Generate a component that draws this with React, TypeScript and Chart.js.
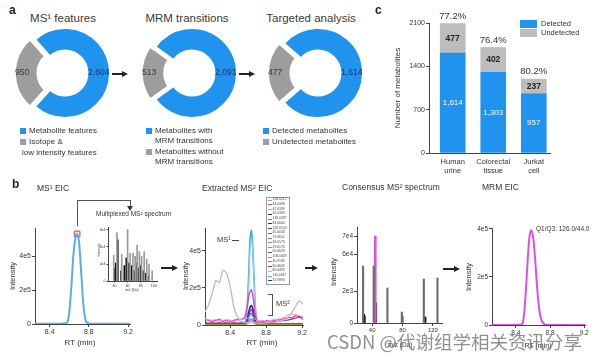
import React, { useEffect, useRef } from "react";
import { Chart, registerables } from "chart.js";

Chart.register(...registerables);

const FONT = "'Liberation Sans', Arial, Helvetica, sans-serif";
const CJK = "'Noto Sans CJK SC', 'Noto Sans', sans-serif";
const INK = "#333333";
const BLUE = "#1f93ee";
const DONUT_GRAY = "#9d9d9d";
const BAR_GRAY = "#bdbdbd";
const MAGENTA = "#e04fe3";

// ---------------- Panel a ----------------
const donutTitles = ["MS\u00b9 features", "MRM transitions", "Targeted analysis"];
const donutKept = [2604, 2091, 1614];
const donutDropped = [950, 513, 477];

// ---------------- Panel c ----------------
const sampleNames = [["Human", "urine"], ["Colorectal", "tissue"], ["Jurkat", "cell"]];
const samplePos = [0, 1, 2];
const detectedCounts = [1614, 1303, 957];
const undetectedCounts = [477, 402, 237];
const detectedPercent = ["77.2%", "76.4%", "80.2%"];
const countTicks = [0, 700, 1400, 2100];

// ---------------- Panel b : MS1 EIC ----------------
const rtTicks = [8.4, 8.8, 9.2];
const intTicks = [0, 2, 4]; // x1e5
const ms1Rt = [8.25, 8.3, 8.35, 8.4, 8.45, 8.5, 8.55, 8.58, 8.6, 8.62, 8.64, 8.66, 8.68, 8.7, 8.72, 8.74, 8.76, 8.78, 8.82, 8.88, 8.95, 9.05, 9.15, 9.22];
const ms1Int = [0.02, 0.01, 0.02, 0.01, 0.02, 0.01, 0.03, 0.1, 0.7, 2.1, 3.9, 5.0, 5.3, 4.8, 3.2, 1.4, 0.4, 0.08, 0.02, 0.01, 0.02, 0.01, 0.02, 0.01];
const ms1Apex = [8.68, 5.3];

// inset multiplexed MS2 spectrum
const insetGrayMz = [38.8, 43.7, 51, 60, 63.8, 68.2, 71.6, 74.6, 78, 81.4, 85.4, 89.3, 92.8, 97.6];
const insetGrayInt = [0.5, 0.94, 0.52, 1.0, 0.54, 0.54, 0.48, 0.7, 0.57, 0.48, 0.57, 0.42, 0.33, 0.2];
const insetBlackMz = [40, 42, 45, 50, 55, 58, 62, 66, 70, 73, 77, 80, 84, 88, 92];
const insetBlackInt = [0.25, 0.35, 0.8, 0.2, 0.3, 0.45, 0.35, 0.3, 0.2, 0.35, 0.25, 0.3, 0.2, 0.15, 0.1];
const insetMzTicks = [40, 60, 80, 100];
const insetIntTicks = [0, 0.33, 0.67, 1.0];
const insetIntLabels = ["0", "2e4", "4e4", "6e4"];

// ---------------- Panel b : extracted MS2 EIC ----------------
const ms2Rt = [8.12, 8.16, 8.2, 8.24, 8.28, 8.32, 8.36, 8.4, 8.44, 8.48, 8.52, 8.56, 8.585, 8.605, 8.62, 8.635, 8.65, 8.665, 8.68, 8.7, 8.73, 8.77, 8.81, 8.85, 8.89, 8.93, 8.97, 9.01, 9.05, 9.09, 9.13, 9.17, 9.21];
const ms2Lavender = [0.7, 1.1, 1.7, 2.4, 2.3, 2.95, 2.8, 2.1, 1.0, 0.45, 0.2, 0.15, 0.12, 0.15, 0.2, 0.25, 0.2, 0.15, 0.12, 0.1, 0.1, 0.1, 0.12, 0.15, 0.15, 0.2, 0.25, 0.3, 0.45, 0.7, 1.05, 1.3, 1.15];
const ms2Pink = [0.35, 0.3, 0.25, 0.3, 0.2, 0.25, 0.3, 0.25, 0.2, 0.25, 0.3, 0.3, 0.35, 0.4, 0.45, 0.5, 0.45, 0.4, 0.3, 0.25, 0.2, 0.25, 0.2, 0.25, 0.3, 0.3, 0.35, 0.45, 0.55, 0.6, 0.55, 0.5, 0.45];
const ms2Maroon = [0.15, 0.1, 0.12, 0.1, 0.12, 0.1, 0.12, 0.1, 0.12, 0.1, 0.12, 0.12, 0.15, 0.2, 0.25, 0.28, 0.25, 0.2, 0.15, 0.12, 0.12, 0.12, 0.15, 0.15, 0.18, 0.2, 0.22, 0.25, 0.28, 0.32, 0.38, 0.42, 0.45];
const ms2Magenta = [0.3, 0.25, 0.2, 0.25, 0.3, 0.2, 0.25, 0.2, 0.25, 0.3, 0.3, 0.4, 0.9, 1.5, 1.8, 1.9, 1.65, 1.1, 0.5, 0.25, 0.2, 0.2, 0.25, 0.2, 0.25, 0.3, 0.3, 0.35, 0.4, 0.4, 0.5, 0.45, 0.3];
const ms2Green = [0.02, 0.03, 0.02, 0.03, 0.02, 0.03, 0.02, 0.03, 0.02, 0.03, 0.02, 0.03, 0.05, 0.12, 0.2, 0.25, 0.2, 0.12, 0.05, 0.02, 0.03, 0.02, 0.03, 0.02, 0.03, 0.02, 0.03, 0.02, 0.03, 0.02, 0.03, 0.02, 0.03];
const ms2Orange = [0.04, 0.05, 0.04, 0.05, 0.04, 0.05, 0.04, 0.05, 0.04, 0.05, 0.04, 0.05, 0.06, 0.1, 0.14, 0.16, 0.13, 0.09, 0.06, 0.05, 0.04, 0.05, 0.04, 0.05, 0.04, 0.05, 0.04, 0.05, 0.04, 0.05, 0.04, 0.05, 0.04];
const ms2Teal = [0.03, 0.02, 0.03, 0.02, 0.03, 0.02, 0.03, 0.02, 0.03, 0.02, 0.03, 0.04, 0.08, 0.2, 0.32, 0.36, 0.3, 0.18, 0.07, 0.03, 0.02, 0.03, 0.02, 0.03, 0.02, 0.03, 0.02, 0.03, 0.02, 0.03, 0.02, 0.03, 0.02];
const ms2Royal = [0.03, 0.04, 0.03, 0.04, 0.03, 0.04, 0.03, 0.04, 0.03, 0.04, 0.03, 0.05, 0.15, 0.4, 0.58, 0.62, 0.5, 0.3, 0.12, 0.05, 0.04, 0.03, 0.04, 0.03, 0.04, 0.03, 0.04, 0.03, 0.04, 0.03, 0.04, 0.03, 0.04];
const ms2Purple = [0.08, 0.06, 0.08, 0.06, 0.08, 0.06, 0.08, 0.06, 0.08, 0.06, 0.08, 0.1, 0.2, 0.5, 0.75, 0.82, 0.7, 0.45, 0.18, 0.08, 0.06, 0.08, 0.06, 0.08, 0.06, 0.08, 0.06, 0.08, 0.06, 0.08, 0.06, 0.08, 0.06];
const ms2Navy = [0.05, 0.04, 0.05, 0.04, 0.05, 0.04, 0.05, 0.04, 0.05, 0.04, 0.05, 0.06, 0.2, 0.65, 0.95, 1.05, 0.9, 0.55, 0.2, 0.07, 0.05, 0.04, 0.05, 0.04, 0.05, 0.04, 0.05, 0.04, 0.05, 0.04, 0.05, 0.04, 0.05];
const ms2Cyan = [0.03, 0.02, 0.03, 0.02, 0.03, 0.02, 0.03, 0.02, 0.03, 0.02, 0.03, 0.04, 0.4, 2.0, 4.0, 4.7, 4.0, 2.4, 0.8, 0.1, 0.02, 0.03, 0.02, 0.03, 0.02, 0.03, 0.02, 0.03, 0.02, 0.03, 0.02, 0.03, 0.02];
const ms2Sky = [0.02, 0.03, 0.02, 0.03, 0.02, 0.03, 0.02, 0.03, 0.02, 0.03, 0.02, 0.05, 0.6, 2.6, 4.6, 5.1, 4.3, 2.6, 1.0, 0.15, 0.03, 0.02, 0.03, 0.02, 0.03, 0.02, 0.03, 0.02, 0.03, 0.02, 0.03, 0.02, 0.03];
const ms2Traces = [
  { values: ms2Lavender, color: "#c6b0dc", width: 1.3 },
  { values: ms2Pink, color: "#f09ad2", width: 1 },
  { values: ms2Maroon, color: "#a4306e", width: 1.2 },
  { values: ms2Orange, color: "#c98a3e", width: 1 },
  { values: ms2Green, color: "#3fa24a", width: 1 },
  { values: ms2Teal, color: "#36b3a3", width: 1 },
  { values: ms2Magenta, color: "#e23fb8", width: 1.4 },
  { values: ms2Royal, color: "#3a55e0", width: 1.2 },
  { values: ms2Purple, color: "#7a2ec4", width: 1.4 },
  { values: ms2Navy, color: "#1d2590", width: 1.6 },
  { values: ms2Cyan, color: "#86d3f2", width: 1.2 },
  { values: ms2Sky, color: "#3fa9e6", width: 1.6 },
];
const ms2LegendMz = ["126.0212", "44.0498", "42.0339", "30.0339", "126.0287", "84.0600", "126.0100", "45.0033", "79.0652", "28.0179", "29.0174", "60.0628", "108.0449", "40.9185", "60.0603", "80.0495", "110.0347", "31.9890"];
const ms2LegendColors = ["#8ab0d8", "#e040b0", "#c090e0", "#1a1a70", "#3ba04a", "#2a2a9a", "#7030c0", "#9040c0", "#c07040", "#d07090", "#40b0a0", "#5050d0", "#60c060", "#e06060", "#a03070", "#f09ad2", "#40c0e0", "#303090"];
const ms2IntTicks = [0, 2, 4];

// ---------------- Panel b : consensus MS2 spectrum (broken axis, display units) ----------------
const consGrayMz = [28.0, 42.03, 60.06, 79.07, 80.05, 108.04, 126.02];
const consGrayH = [57, 57, 35, 11, 7, 44, 45];
const consBlackMz = [29.0, 30.03, 110.03];
const consBlackH = [9, 7, 6];
const consMagentaMz = [44.05];
const consMagentaH = [87];
const consPurpleMz = [45.0];
const consPurpleH = [20];
const consTickValues = [0, 32, 69, 87];
const consTickLabels = ["0", "2e3", "6e4", "7e4"];
const consMzTicks = [40, 80, 120];

// ---------------- Panel b : MRM EIC ----------------
const mrmRt = [8.12, 8.3, 8.45, 8.48, 8.5, 8.52, 8.54, 8.56, 8.58, 8.6, 8.62, 8.64, 8.66, 8.68, 8.7, 8.73, 8.76, 8.9, 9.05, 9.21];
const mrmInt = [0, 0, 0, 0.1, 0.6, 1.6, 2.8, 3.7, 3.95, 3.7, 3.0, 2.0, 1.1, 0.5, 0.2, 0.05, 0, 0, 0, 0];

// ======================================================================
const pts = (xs: number[], ys: number[]) => xs.map((x, i) => ({ x, y: ys[i] }));

type Box = { l: number; t: number; r: number; b: number; padL: number; padB: number; padT?: number; padR?: number };

function base(box: Box) {
  return {
    animation: false,
    responsive: false,
    maintainAspectRatio: false,
    layout: { padding: { top: box.padT ?? 6, right: box.padR ?? 8, left: 0, bottom: 0 } },
    plugins: { legend: { display: false }, tooltip: { enabled: false } },
  };
}

function axis(kind: "x" | "y", box: Box, min: number, max: number, ticks: number[], label: (v: number) => any, size: number, extra: any = {}) {
  return {
    type: "linear",
    min,
    max,
    offset: false,
    border: { display: true, color: "#444", width: 1 },
    grid: { drawOnChartArea: false, drawTicks: true, tickLength: 3, color: "#444", lineWidth: 1, offset: false },
    ticks: { font: { family: FONT, size }, color: INK, padding: 1, maxRotation: 0, autoSkip: false, callback: (v: number) => label(v) },
    afterBuildTicks: (s: any) => {
      s.ticks = ticks.map((v) => ({ value: v }));
    },
    afterFit: (s: any) => {
      if (kind === "x") {
        s.height = box.padB;
        s.paddingLeft = 0;
        s.paddingRight = 0;
      } else {
        s.width = box.padL;
        s.paddingTop = 0;
        s.paddingBottom = 0;
      }
    },
    ...extra,
  };
}

function PlotCanvas({ box, make }: { box: Box; make: (b: Box) => any }) {
  const ref = useRef<HTMLCanvasElement>(null);
  const padT = box.padT ?? 6;
  const padR = box.padR ?? 8;
  const w = box.r - box.l + box.padL + padR;
  const h = box.b - box.t + padT + box.padB;
  useEffect(() => {
    const c = new Chart(ref.current as HTMLCanvasElement, make(box));
    return () => c.destroy();
  }, []);
  return (
    <canvas
      ref={ref}
      width={w}
      height={h}
      style={{ position: "absolute", left: box.l - box.padL, top: box.t - padT, width: w, height: h }}
    />
  );
}

// ---------------- text helpers ----------------
function T({ x, y, s = 8, a = "l", c = INK, b = false, rot = 0, ff = FONT, children }: any) {
  const tx = a === "c" ? "-50%" : a === "r" ? "-100%" : "0";
  return (
    <div
      style={{
        position: "absolute",
        left: x,
        top: y,
        whiteSpace: "nowrap",
        fontSize: s,
        lineHeight: 1,
        color: c,
        fontWeight: b ? "bold" : "normal",
        fontFamily: ff,
        transform: `translate(${tx}, -50%) rotate(${rot}deg)`,
      }}
    >
      {children}
    </div>
  );
}

function ArrowR({ x, y, len }: { x: number; y: number; len: number }) {
  return (
    <>
      <div style={{ position: "absolute", left: x, top: y - 0.75, width: len - 5, height: 1.5, background: "#222" }} />
      <div
        style={{
          position: "absolute",
          left: x + len - 6,
          top: y - 3,
          width: 0,
          height: 0,
          borderTop: "3px solid transparent",
          borderBottom: "3px solid transparent",
          borderLeft: "6px solid #222",
        }}
      />
    </>
  );
}

function Line({ x, y, w, h, c = "#444" }: any) {
  return <div style={{ position: "absolute", left: x, top: y, width: w, height: h, background: c }} />;
}

function Sq({ x, y, w = 6, h = 6, c }: any) {
  return <div style={{ position: "absolute", left: x, top: y - h / 2, width: w, height: h, background: c }} />;
}

// ---------------- donut ----------------
const DONUT_OFFSET = 20;
const donutLabelPlugin = {
  id: "donutLabels",
  afterDatasetsDraw(chart: any) {
    const meta = chart.getDatasetMeta(0);
    const values = chart.data.datasets[0].data;
    const ctx = chart.ctx;
    ctx.save();
    ctx.textAlign = "center";
    ctx.textBaseline = "middle";
    meta.data.forEach((arc: any, i: number) => {
      const p = arc.getProps(["x", "y", "startAngle", "endAngle", "innerRadius", "outerRadius"], true);
      const mid = (p.startAngle + p.endAngle) / 2;
      const r = p.innerRadius + (p.outerRadius - p.innerRadius) * (i === 1 ? 0.68 : 0.5) + (i === 1 ? DONUT_OFFSET / 4 : 0);
      ctx.font = `8.5px ${FONT}`;
      ctx.fillStyle = i === 0 ? "#15386e" : "#3a3a3a";
      ctx.fillText(values[i].toLocaleString("en-US"), p.x + Math.cos(mid) * r, p.y + Math.sin(mid) * r);
    });
    ctx.restore();
  },
};

function Donut({ cx, cy, kept, dropped }: { cx: number; cy: number; kept: number; dropped: number }) {
  const ref = useRef<HTMLCanvasElement>(null);
  const S = 124;
  useEffect(() => {
    const frac = dropped / (kept + dropped);
    const rotation = -90 + 180 * frac;
    const chart = new Chart(ref.current as HTMLCanvasElement, {
      type: "doughnut",
      data: {
        labels: ["kept", "dropped"],
        datasets: [
          {
            data: [kept, dropped],
            backgroundColor: [BLUE, DONUT_GRAY],
            borderColor: "#ffffff",
            borderWidth: 2,
            offset: [0, DONUT_OFFSET],
            radius: 45,
            cutout: "50%",
            rotation,
          } as any,
        ],
      },
      options: {
        animation: false,
        responsive: false,
        radius: 45,
        cutout: "50%",
        rotation,
        layout: { padding: 0 },
        plugins: { legend: { display: false }, tooltip: { enabled: false } },
      } as any,
      plugins: [donutLabelPlugin],
    });
    return () => chart.destroy();
  }, []);
  return <canvas ref={ref} width={S} height={S} style={{ position: "absolute", left: cx - S / 2, top: cy - S / 2, width: S, height: S }} />;
}

// ---------------- chart configs ----------------
const boxMs1: Box = { l: 35, t: 228, r: 130, b: 324, padL: 22, padB: 14 };
const boxInset: Box = { l: 108, t: 227, r: 157, b: 281, padL: 9, padB: 8, padT: 4, padR: 5 };
const boxMs2: Box = { l: 205, t: 228, r: 303, b: 325, padL: 18, padB: 14 };
const boxCons: Box = { l: 357, t: 227, r: 442, b: 323, padL: 16, padB: 14 };
const boxMrm: Box = { l: 492, t: 228, r: 585, b: 325, padL: 18, padB: 14, padR: 6 };
const boxC: Box = { l: 429, t: 23, r: 550, b: 153, padL: 24, padB: 26, padT: 20, padR: 8 };

const e5 = (v: number) => (v === 0 ? "0" : `${v}e5`);

function ms1Config(box: Box) {
  return {
    type: "line",
    data: {
      datasets: [
        { data: pts(ms1Rt, ms1Int), borderColor: "#58aee9", borderWidth: 2, pointRadius: 0, cubicInterpolationMode: "monotone" },
        {
          data: [{ x: ms1Apex[0], y: ms1Apex[1] }],
          showLine: false,
          pointStyle: "rect",
          pointRadius: 4,
          borderColor: "#e0393e",
          borderWidth: 1,
          backgroundColor: "rgba(255,190,190,0.4)",
        },
      ],
    },
    options: {
      ...base(box),
      scales: {
        x: axis("x", box, 8.25, 9.22, rtTicks, (v) => v.toFixed(1), 7),
        y: axis("y", box, 0, 5.65, intTicks, e5, 7),
      },
    },
  };
}

function insetConfig(box: Box) {
  return {
    type: "bar",
    data: {
      datasets: [
        { data: pts(insetGrayMz, insetGrayInt), backgroundColor: "#9a9a9a", barThickness: 1, grouped: false },
        { data: pts(insetBlackMz, insetBlackInt), backgroundColor: "#111111", barThickness: 1, grouped: false },
      ],
    },
    options: {
      ...base(box),
      scales: {
        x: axis("x", box, 30, 105, insetMzTicks, (v) => String(v), 3.5, { grid: { drawOnChartArea: false, tickLength: 1.5, color: "#444", offset: false } }),
        y: axis("y", box, 0, 1.05, insetIntTicks, (v) => insetIntLabels[insetIntTicks.indexOf(v)], 3.5, { grid: { drawOnChartArea: false, tickLength: 1.5, color: "#444" } }),
      },
    },
  };
}

function ms2Config(box: Box) {
  return {
    type: "line",
    data: {
      datasets: ms2Traces.map((t) => ({
        data: pts(ms2Rt, t.values),
        borderColor: t.color,
        borderWidth: t.width,
        pointRadius: 0,
        tension: 0.2,
      })),
    },
    options: {
      ...base(box),
      scales: {
        x: axis("x", box, 8.12, 9.21, rtTicks, (v) => v.toFixed(1), 7),
        y: axis("y", box, 0, 5.24, ms2IntTicks, e5, 7),
      },
    },
  };
}

function consConfig(box: Box) {
  return {
    type: "bar",
    data: {
      datasets: [
        { data: pts(consGrayMz, consGrayH), backgroundColor: "#6e6e6e", barThickness: 1.5, grouped: false },
        { data: pts(consBlackMz, consBlackH), backgroundColor: "#151515", barThickness: 1.5, grouped: false },
        { data: pts(consMagentaMz, consMagentaH), backgroundColor: MAGENTA, barThickness: 2, grouped: false },
        { data: pts(consPurpleMz, consPurpleH), backgroundColor: "#6a1f6a", barThickness: 1.5, grouped: false },
      ],
    },
    options: {
      ...base(box),
      scales: {
        x: axis("x", box, 20, 132, consMzTicks, (v) => String(v), 6),
        y: axis("y", box, 0, 96, consTickValues, (v) => consTickLabels[consTickValues.indexOf(v)], 6.5),
      },
    },
  };
}

function mrmConfig(box: Box) {
  return {
    type: "line",
    data: {
      datasets: [{ data: pts(mrmRt, mrmInt), borderColor: MAGENTA, borderWidth: 2, pointRadius: 0, cubicInterpolationMode: "monotone" }],
    },
    options: {
      ...base(box),
      scales: {
        x: axis("x", box, 8.12, 9.21, rtTicks, (v) => v.toFixed(1), 6.5),
        y: axis("y", box, 0, 4.04, intTicks, e5, 6.5),
      },
    },
  };
}

const countLabelPlugin = {
  id: "countLabels",
  afterDatasetsDraw(chart: any) {
    const ctx = chart.ctx;
    const det = chart.getDatasetMeta(0).data;
    const und = chart.getDatasetMeta(1).data;
    ctx.save();
    ctx.textAlign = "center";
    ctx.textBaseline = "middle";
    det.forEach((bar: any, i: number) => {
      const p = bar.getProps(["x", "y", "base"], true);
      ctx.fillStyle = "#ffffff";
      ctx.font = `8px ${FONT}`;
      ctx.fillText(detectedCounts[i].toLocaleString("en-US"), p.x, (p.y + p.base) / 2);
    });
    und.forEach((bar: any, i: number) => {
      const p = bar.getProps(["x", "y", "base"], true);
      ctx.fillStyle = "#222222";
      ctx.font = `bold 8.5px ${FONT}`;
      ctx.fillText(String(undetectedCounts[i]), p.x, (p.y + p.base) / 2);
      ctx.fillStyle = INK;
      ctx.font = `9.5px ${FONT}`;
      ctx.fillText(detectedPercent[i], p.x, p.y - 7.5);
    });
    ctx.restore();
  },
};

function countConfig(box: Box) {
  return {
    type: "bar",
    data: {
      datasets: [
        { label: "Detected", data: pts(samplePos, detectedCounts), backgroundColor: BLUE, barThickness: 25 },
        { label: "Undetected", data: pts(samplePos, undetectedCounts), backgroundColor: BAR_GRAY, barThickness: 25 },
      ],
    },
    options: {
      ...base(box),
      scales: {
        x: axis("x", box, -0.585, 2.4, samplePos, (v) => sampleNames[v], 7.5, {
          stacked: true,
          grid: { drawOnChartArea: false, drawTicks: false, tickLength: 0, offset: false },
          ticks: { font: { family: FONT, size: 7.5, lineHeight: 1.25 }, color: INK, padding: 4, maxRotation: 0, autoSkip: false, callback: (v: number) => sampleNames[v] },
        }),
        y: axis("y", box, 0, 2100, countTicks, (v) => String(v), 7, { stacked: true }),
      },
    },
    plugins: [countLabelPlugin],
  };
}

// ======================================================================
export default function App() {
  const donutCenters = [
    { cx: 65, cy: 73 },
    { cx: 192, cy: 73 },
    { cx: 318, cy: 73 },
  ];
  const titleX = [63, 187, 311];
  return (
    <div
      style={{
        position: "fixed",
        left: 0,
        top: 0,
        width: 600,
        height: 358,
        background: "#ffffff",
        overflow: "hidden",
        fontFamily: FONT,
      }}
    >
      {/* ---------- panel a ---------- */}
      <T x={9} y={10} s={12} b c="#222">a</T>
      {donutTitles.map((t, i) => (
        <T key={t} x={titleX[i]} y={19} s={11.5} a="c" c="#3a3a3a">
          {t}
        </T>
      ))}
      {donutCenters.map((d, i) => (
        <Donut key={i} cx={d.cx} cy={d.cy} kept={donutKept[i]} dropped={donutDropped[i]} />
      ))}
      <ArrowR x={112} y={74} len={16} />
      <ArrowR x={239} y={74} len={16} />

      {/* legends */}
      <Sq x={20} y={131} c={BLUE} />
      <T x={29} y={131} s={8}>Metabolite features</T>
      <Sq x={20} y={142} c={DONUT_GRAY} />
      <T x={29} y={142} s={8}>Isotope &amp;</T>
      <T x={22} y={153} s={8}>low intensity features</T>

      <Sq x={146} y={131} c={BLUE} />
      <T x={155} y={131} s={8}>Metabolites with</T>
      <T x={155} y={141} s={8}>MRM transitions</T>
      <Sq x={146} y={152} c={DONUT_GRAY} />
      <T x={155} y={152} s={8}>Metabolites without</T>
      <T x={155} y={162} s={8}>MRM transitions</T>

      <Sq x={263} y={131} c={BLUE} />
      <T x={272} y={131} s={8}>Detected metabolites</T>
      <Sq x={263} y={142} c={DONUT_GRAY} />
      <T x={272} y={142} s={8}>Undetected metabolites</T>

      {/* ---------- panel c ---------- */}
      <T x={375} y={10} s={12} b c="#222">c</T>
      <PlotCanvas box={boxC} make={countConfig} />
      <T x={398} y={88} s={8} a="c" rot={-90}>Number of metabolites</T>
      <Sq x={520} y={24} w={17} h={8} c={BLUE} />
      <Sq x={520} y={33} w={17} h={8} c={BAR_GRAY} />
      <T x={541} y={24} s={7.5}>Detected</T>
      <T x={541} y={33} s={7.5}>Undetected</T>

      {/* ---------- panel b ---------- */}
      <T x={12} y={184} s={12} b c="#222">b</T>
      <T x={37} y={188} s={8.5}>MS{"\u00b9"} EIC</T>
      <T x={202} y={188} s={8.5}>Extracted MS{"\u00b2"} EIC</T>
      <T x={342} y={187} s={8.5}>Consensus MS{"\u00b2"} spectrum</T>
      <T x={482} y={187} s={8.5}>MRM EIC</T>

      {/* MS1 EIC */}
      <PlotCanvas box={boxMs1} make={ms1Config} />
      <T x={13} y={276} s={7.5} a="c" rot={-90}>Intensity</T>
      <T x={80} y={343} s={8} a="c">RT (min)</T>
      <Line x={76.5} y={200} w={1} h={26} c="#555" />
      <Line x={76.5} y={200} w={54} h={1} c="#555" />
      <Line x={129.5} y={200} w={1} h={6} c="#555" />
      <div
        style={{
          position: "absolute",
          left: 127,
          top: 206,
          width: 0,
          height: 0,
          borderLeft: "3px solid transparent",
          borderRight: "3px solid transparent",
          borderTop: "5px solid #333",
        }}
      />
      <T x={96} y={214} s={6.5}>Multiplexed MS{"\u00b2"} spectrum</T>
      <PlotCanvas box={boxInset} make={insetConfig} />
      <T x={100} y={250} s={3.5} a="c" rot={-90}>Intensity</T>
      <T x={132} y={291} s={3.5} a="c">m/z (Da)</T>
      <ArrowR x={161} y={268} len={17} />

      {/* extracted MS2 EIC */}
      <PlotCanvas box={boxMs2} make={ms2Config} />
      <T x={186} y={276} s={7.5} a="c" rot={-90}>Intensity</T>
      <T x={262} y={343} s={8} a="c">RT (min)</T>
      <T x={217} y={240} s={7.5}>MS{"\u00b9"}</T>
      <Line x={232} y={240} w={7} h={1} c="#444" />
      <Line x={272} y={294} w={1} h={22} c="#555" />
      <Line x={268} y={294} w={4} h={1} c="#555" />
      <Line x={268} y={315} w={4} h={1} c="#555" />
      <T x={276} y={304} s={7.5}>MS{"\u00b2"}</T>
      <div
        style={{
          position: "absolute",
          left: 266,
          top: 197,
          width: 24,
          height: 88,
          border: "0.5px solid #999",
          background: "#ffffff",
          boxSizing: "border-box",
        }}
      />
      {ms2LegendMz.map((m, i) => (
        <React.Fragment key={m + i}>
          <Line x={268} y={199.5 + i * 4.75} w={3.5} h={0.8} c={ms2LegendColors[i]} />
          <T x={272.5} y={200 + i * 4.75} s={3.4} c="#444">
            {m}
          </T>
        </React.Fragment>
      ))}
      <ArrowR x={305} y={268} len={13} />

      {/* consensus MS2 spectrum */}
      <PlotCanvas box={boxCons} make={consConfig} />
      <T x={334} y={272} s={7.5} a="c" rot={-90}>Intensity</T>
      <T x={400} y={345} s={6.5} a="c">m/z (Da)</T>
      <ArrowR x={443} y={269} len={17} />

      {/* MRM EIC */}
      <PlotCanvas box={boxMrm} make={mrmConfig} />
      <T x={469} y={277} s={7.5} a="c" rot={-90}>Intensity</T>
      <T x={538} y={345} s={7} a="c">RT (min)</T>
      <T x={536} y={229} s={6.5}>Q1/Q3: 126.0/44.0</T>

      {/* watermark */}
      <T x={327} y={341} s={18.5} ff={CJK} c="rgba(125,125,125,0.85)">
        CSDN @代谢组学相关资讯分享
      </T>
    </div>
  );
}
